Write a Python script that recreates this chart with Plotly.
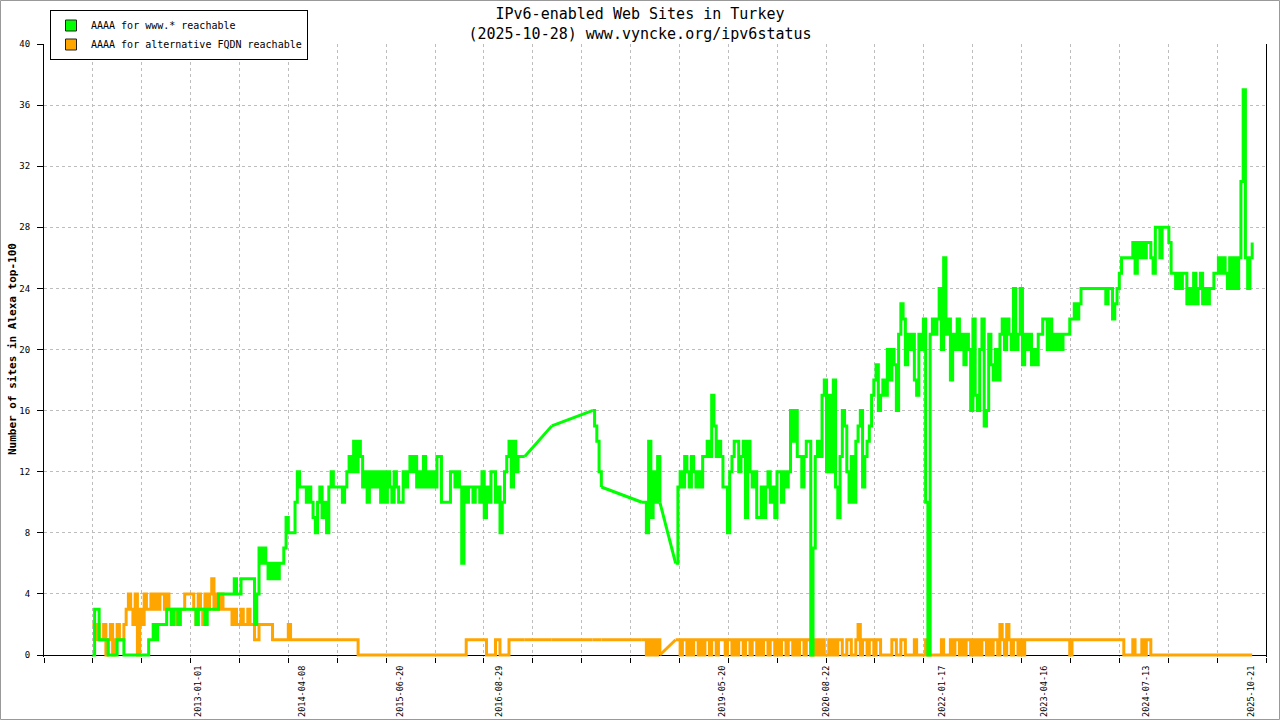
import pandas as pd
import plotly.graph_objects as go

N = None

# ---- data (one sample every 10 days starting at sample_start; None = no measurement) ----
sample_start = "2011-09-20"
sample_step_days = 10

green_values = [
    0, 3, 3, 1, 1, 1, 1, 0, 0, 0,
    0, 1, 1, 1, 0, 0, 0, 0, 0, 0,
    0, 0, 0, 0, 0, 1, 1, 2, 1, 2,
    2, 2, 2, 3, 3, 2, 3, 3, 2, 3,
    3, 3, 3, 3, 3, 3, 2, 3, 3, 3,
    2, 3, 3, 3, 3, 3, 4, 4, 4, 4,
    4, 4, 4, 5, 4, 4, 5, 5, 5, 5,
    5, 5, 2, 4, 7, 6, 7, 6, 5, 6,
    5, 6, 5, 6, 6, 7, 9, 8, 8, 8,
    10, 12, 11, 11, 11, 10, 11, 10, 9, 8,
    10, 11, 9, 10, 8, 11, 12, 11, 11, 11,
    11, 10, 11, 12, 13, 12, 14, 12, 14, 13,
    11, 12, 10, 12, 11, 12, 11, 12, 10, 12,
    10, 12, 11, 10, 12, 11, 10, 10, 12, 11,
    12, 13, 12, 13, 11, 12, 11, 13, 11, 12,
    11, 12, 11, 13, 13, 10, 10, 10, 10, 12,
    12, 11, 12, 11, 6, 11, 10, 11, 11, 10,
    11, 11, 10, 12, 9, 11, 10, 12, 12, 10,
    11, 8, 10, 12, 13, 14, 11, 14, 12, 13,
    13, 13, 13, N, N, N, N, N, N, N,
    N, N, N, N, 15, N, N, N, N, N,
    N, N, N, N, N, N, N, N, N, N,
    N, N, 16, 15, 14, 12, 11, N, N, N,
    N, N, N, N, N, N, N, N, N, N,
    N, N, N, N, 10, 10, 8, 14, 9, 12,
    10, 13, 10, N, N, N, N, N, N, 6,
    11, 12, 11, 13, 12, 11, 13, 12, 11, 12,
    11, 13, 13, 14, 13, 17, 15, 13, 14, 13,
    11, 11, 8, 12, 13, 14, 14, 12, 13, 14,
    9, 14, 12, 11, 12, 9, 9, 11, 9, 11,
    12, 10, 11, 9, 12, 12, 10, 12, 11, 12,
    16, 14, 16, 13, 13, 11, 13, 14, 14, 0,
    7, 13, 14, 13, 17, 18, 12, 17, 12, 18,
    11, 9, 13, 16, 15, 12, 10, 13, 10, 14,
    15, 16, 11, 13, 14, 15, 17, 18, 19, 16,
    17, 18, 17, 20, 18, 20, 19, 16, 21, 23,
    22, 19, 21, 20, 21, 18, 17, 21, 20, 22,
    10, 0, 21, 22, 21, 22, 24, 20, 26, 21,
    22, 18, 21, 20, 22, 20, 21, 19, 21, 20,
    16, 22, 17, 16, 20, 22, 15, 16, 21, 19,
    18, 20, 18, 21, 22, 20, 22, 21, 20, 24,
    20, 21, 24, 19, 21, 20, 21, 19, 20, 19,
    21, 21, 22, 22, 20, 22, 20, 21, 20, 21,
    20, 21, 21, 21, 22, 22, 23, 22, 23, 24,
    24, 24, 24, 24, 24, 24, 24, 24, 24, 24,
    23, 24, 24, 22, 23, 24, 25, 26, 26, 26,
    26, 26, 27, 25, 27, 26, 27, 26, 27, 27,
    26, 25, 28, 28, 26, 28, 28, 28, 27, 25,
    25, 24, 25, 24, 25, 25, 23, 24, 23, 25,
    23, 24, 25, 23, 24, 23, 24, 24, 25, 25,
    26, 25, 26, 25, 24, 26, 24, 26, 24, 26,
    31, 37, 26, 24, 26, 27,
]

orange_values = [
    2, 1, 2, 1, 1, 2, 0, 1, 2, 0,
    1, 2, 1, 1, 2, 3, 4, 3, 2, 4,
    0, 3, 2, 4, 3, 3, 4, 3, 4, 3,
    4, 4, 3, 4, 3, 3, 2, 3, 2, 3,
    3, 4, 4, 4, 4, 3, 2, 4, 3, 2,
    4, 3, 4, 5, 3, 4, 3, 4, 3, 3,
    3, 3, 2, 3, 2, 2, 3, 2, 2, 3,
    2, 2, 1, 1, 2, 2, 2, 2, 2, 2,
    1, 1, 1, 1, 1, 1, 1, 2, 1, 1,
    1, 1, 1, 1, 1, 1, 1, 1, 1, 1,
    1, 1, 1, 1, 1, 1, 1, 1, 1, 1,
    1, 1, 1, 1, 1, 1, 1, 1, 0, 0,
    0, 0, 0, 0, 0, 0, 0, 0, 0, 0,
    0, 0, 0, 0, 0, 0, 0, 0, 0, 0,
    0, 0, 0, 0, 0, 0, 0, 0, 0, 0,
    0, 0, 0, 0, 0, 0, 0, 0, 0, 0,
    0, 0, 0, 0, 0, 0, 1, 1, 1, 1,
    1, 1, 1, 1, 1, 0, 0, 0, 0, 1,
    1, 0, 0, 0, 0, 1, 1, 1, 1, 1,
    1, 1, 1, N, N, N, N, N, N, N,
    N, N, N, N, 1, N, N, N, N, N,
    N, N, N, N, N, N, N, N, N, N,
    N, N, 1, 1, 1, 1, 1, N, N, N,
    N, N, N, N, N, N, N, N, N, N,
    N, N, N, N, 1, 1, 0, 1, 0, 1,
    0, 1, 0, N, N, N, N, N, N, 1,
    1, 0, 1, 1, 0, 1, 0, 1, 1, 0,
    1, 0, 1, 1, 0, 1, 1, 0, 1, 1,
    1, 0, 1, 1, 0, 1, 0, 1, 1, 0,
    1, 1, 0, 1, 1, 0, 1, 0, 1, 1,
    0, 1, 1, 0, 1, 0, 1, 1, 0, 1,
    1, 0, 1, 0, 1, 1, 0, 1, 1, 0,
    1, 0, 1, 0, 1, 0, 0, 1, 0, 1,
    0, 1, 1, 0, 0, 1, 1, 0, 0, 1,
    2, 0, 1, 1, 0, 1, 1, 0, 1, 1,
    0, 0, 0, 0, 0, 1, 1, 0, 0, 1,
    1, 0, 0, 0, 0, 1, 0, 0, 0, 0,
    1, 0, 0, 0, 0, 0, 0, 1, 0, 0,
    0, 1, 0, 1, 1, 0, 1, 0, 1, 1,
    0, 1, 0, 1, 0, 1, 1, 0, 1, 0,
    1, 1, 0, 2, 1, 0, 2, 1, 0, 1,
    1, 0, 1, 0, 1, 1, 1, 1, 1, 1,
    1, 1, 1, 1, 1, 1, 1, 1, 1, 1,
    1, 1, 1, 1, 0, 1, 1, 1, 1, 1,
    1, 1, 1, 1, 1, 1, 1, 1, 1, 1,
    1, 1, 1, 1, 1, 1, 1, 1, 0, 0,
    0, 0, 1, 0, 0, 0, 1, 0, 1, 1,
    0, 0, 0, 0, 0, 0, 0, 0, 0, 0,
    0, 0, 0, 0, 0, 0, 0, 0, 0, 0,
    0, 0, 0, 0, 0, 0, 0, 0, 0, 0,
    0, 0, 0, 0, 0, 0, 0, 0, 0, 0,
    0, 0, 0, 0, 0, 0,
]

tick_dates = ["2013-01-01", "2014-04-08", "2015-06-20", "2016-08-29", "2019-05-20",
              "2020-08-22", "2022-01-17", "2023-04-16", "2024-07-13", "2025-10-21"]

series_names = ["AAAA for www.* reachable", "AAAA for alternative FQDN reachable"]
series_colors = ["#00ff00", "#ffa500"]

title_line1 = "IPv6-enabled Web Sites in Turkey"
title_line2 = "(2025-10-28) www.vyncke.org/ipv6status"
y_title = "Number of sites in Alexa top-100"

# ---- figure ----
dates = list(pd.date_range(sample_start, periods=len(green_values), freq=f"{sample_step_days}D"))

MONO = "DejaVu Sans Mono, Liberation Mono, monospace"


def gap_bridges(vals):
    """Straight segments joining the samples on both sides of each run of missing samples."""
    xs, ys, last = [], [], None
    for i, v in enumerate(vals):
        if v is None:
            continue
        if last is not None and i - last > 1:
            xs += [dates[last], dates[i], None]
            ys += [vals[last], v, None]
        last = i
    return xs, ys


fig = go.Figure()
# orange first so green is drawn on top
for vals, name, col in [(orange_values, series_names[1], series_colors[1]),
                        (green_values, series_names[0], series_colors[0])]:
    fig.add_trace(go.Scatter(x=dates, y=vals, mode="lines", name=name,
                             line=dict(color=col, width=3, shape="hv"), connectgaps=False,
                             showlegend=False, hoverinfo="skip"))
    bx, by = gap_bridges(vals)
    fig.add_trace(go.Scatter(x=bx, y=by, mode="lines", name=name,
                             line=dict(color=col, width=3), connectgaps=False,
                             showlegend=False, hoverinfo="skip"))

# legend swatches
for name, col in zip(series_names, series_colors):
    fig.add_trace(go.Scatter(x=[None], y=[None], mode="markers", name=name,
                             marker=dict(symbol="square", size=11, color=col,
                                         line=dict(color="#222222", width=1))))

x_left = "2011-02-17 05:00"
x_right = "2025-12-26 10:00"
minor_step_ms = 217.05 * 86400000

fig.update_layout(
    width=1280, height=720,
    paper_bgcolor="white", plot_bgcolor="white",
    margin=dict(l=44, r=14, t=44, b=63, autoexpand=False),
    font=dict(family=MONO, size=9, color="black"),
    title=dict(text=f"{title_line1}<br>{title_line2}", x=0.5, xanchor="center",
               xref="container", y=1 - 19 / 720, yanchor="middle", yref="container",
               font=dict(family=MONO, size=15, color="black")),
    legend=dict(xref="container", yref="container", x=50 / 1280, y=1 - 10 / 720,
                xanchor="left", yanchor="top", bgcolor="white",
                bordercolor="black", borderwidth=1,
                font=dict(family=MONO, size=10, color="black"),
                itemwidth=30, tracegroupgap=0),
    showlegend=True,
    xaxis=dict(
        type="date", range=[x_left, x_right],
        tickmode="array", tickvals=tick_dates, ticktext=tick_dates,
        tickangle=-90, ticks="", showgrid=False, showline=False, zeroline=False,
        ticklabelstandoff=6,
        tickfont=dict(family=MONO, size=8.5, color="black"),
        minor=dict(tick0=x_left, dtick=minor_step_ms, ticks="outside", ticklen=5,
                   tickcolor="black", showgrid=True, gridcolor="#bdbdbd",
                   griddash="dot", gridwidth=1),
    ),
    yaxis=dict(
        range=[-0.13, 40], tickmode="linear", tick0=0, dtick=4,
        ticks="outside", ticklen=6, tickcolor="black",
        showline=True, linecolor="black", linewidth=1, mirror=True,
        showgrid=True, gridcolor="#bdbdbd", griddash="dot", gridwidth=1,
        zeroline=True, zerolinecolor="black", zerolinewidth=1,
        ticklabelstandoff=5,
        tickfont=dict(family=MONO, size=9, color="black"),
    ),
    annotations=[dict(text=f"<b>{y_title}</b>", textangle=-90, showarrow=False,
                      xref="paper", yref="paper", x=(12.5 - 44) / 1222, y=(657 - 349.5) / 613,
                      xanchor="center", yanchor="middle",
                      font=dict(family=MONO, size=11, color="black"))],
)

# thin grey frame around the whole picture
fig.add_shape(type="rect", xref="paper", yref="paper",
              x0=(0.5 - 44) / 1222, x1=(1279.5 - 44) / 1222,
              y0=(657 - 719.5) / 613, y1=(657 - 0.5) / 613,
              line=dict(color="#999999", width=1), fillcolor="rgba(0,0,0,0)", layer="below")

fig.write_html("out.html", config={"displayModeBar": False},
               post_script="document.body.style.margin='0';document.body.style.overflow='hidden';")
